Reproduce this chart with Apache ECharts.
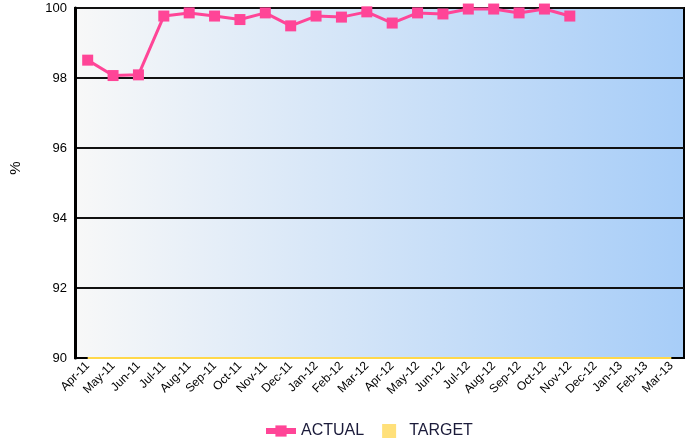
<!DOCTYPE html>
<html>
<head>
<meta charset="utf-8">
<script src="https://cdn.jsdelivr.net/npm/echarts@6/dist/echarts.min.js"></script>
<style>
  html, body { margin: 0; padding: 0; background: #fff; }
  #chart { width: 685px; height: 444px; }
</style>
</head>
<body>
<div id="chart"></div>
<script>
const months = ['Apr-11', 'May-11', 'Jun-11', 'Jul-11', 'Aug-11', 'Sep-11', 'Oct-11', 'Nov-11',
  'Dec-11', 'Jan-12', 'Feb-12', 'Mar-12', 'Apr-12', 'May-12', 'Jun-12', 'Jul-12', 'Aug-12',
  'Sep-12', 'Oct-12', 'Nov-12', 'Dec-12', 'Jan-13', 'Feb-13', 'Mar-13']
const actual = [98.51, 98.07, 98.09, 99.77, 99.86, 99.77, 99.67, 99.86, 99.49, 99.77, 99.74,
  99.89, 99.57, 99.86, 99.83, 99.97, 99.97, 99.86, 99.97, 99.77]
const target = [90, 90, 90, 90, 90, 90, 90, 90, 90, 90, 90, 90,
  90, 90, 90, 90, 90, 90, 90, 90, 90, 90, 90, 90]

const chart = echarts.init(document.getElementById('chart'))

chart.setOption({
  animation: false,
  textStyle: { fontFamily: 'Liberation Sans, Arial, sans-serif' },
  grid: {
    left: 72, right: 1, top: 8, bottom: 86,
    show: true,
    borderColor: '#000',
    borderWidth: 2,
    backgroundColor: new echarts.graphic.LinearGradient(0, 0, 1, 0, [
      { offset: 0, color: '#f8f8f8' },
      { offset: 1, color: '#a7cdf8' },
    ]),
  },
  legend: {
    bottom: 0,
    left: 258,
    itemGap: 18,
    itemWidth: 30,
    itemHeight: 14,
    textStyle: { fontSize: 16, color: '#1b1b3a' },
    data: [
      { name: 'ACTUAL', lineStyle: { width: 6 } },
      { name: 'TARGET', icon: 'path://M0,0H10V10H0Z', itemStyle: { color: '#ffe07a' } },
    ],
  },
  xAxis: {
    type: 'category',
    data: months,
    boundaryGap: true,
    axisLine: { lineStyle: { color: '#000', width: 2 } },
    axisTick: { show: false },
    axisLabel: { rotate: 45, fontSize: 12, color: '#000', margin: 6, interval: 0 },
  },
  yAxis: {
    type: 'value',
    min: 90,
    max: 100,
    interval: 2,
    name: '%',
    nameLocation: 'middle',
    nameGap: 52,
    nameRotate: 90,
    nameTextStyle: { fontSize: 15, color: '#000', padding: [0, 0, 0, 30] },
    axisLine: { show: true, lineStyle: { color: '#000', width: 3 } },
    axisTick: { show: false },
    axisLabel: { fontSize: 13, color: '#000', margin: 8 },
    splitLine: { lineStyle: { color: '#111', width: 2 } },
  },
  series: [
    {
      name: 'ACTUAL',
      type: 'line',
      data: actual,
      symbol: 'rect',
      symbolSize: 11,
      lineStyle: { color: '#ff4597', width: 3 },
      itemStyle: { color: '#ff4597' },
      z: 3,
    },
    {
      name: 'TARGET',
      type: 'line',
      data: target,
      symbol: 'none',
      lineStyle: { color: '#ffd84a', width: 2 },
      itemStyle: { color: '#ffe07a' },
      z: 2,
    },
  ],
})
</script>
</body>
</html>
